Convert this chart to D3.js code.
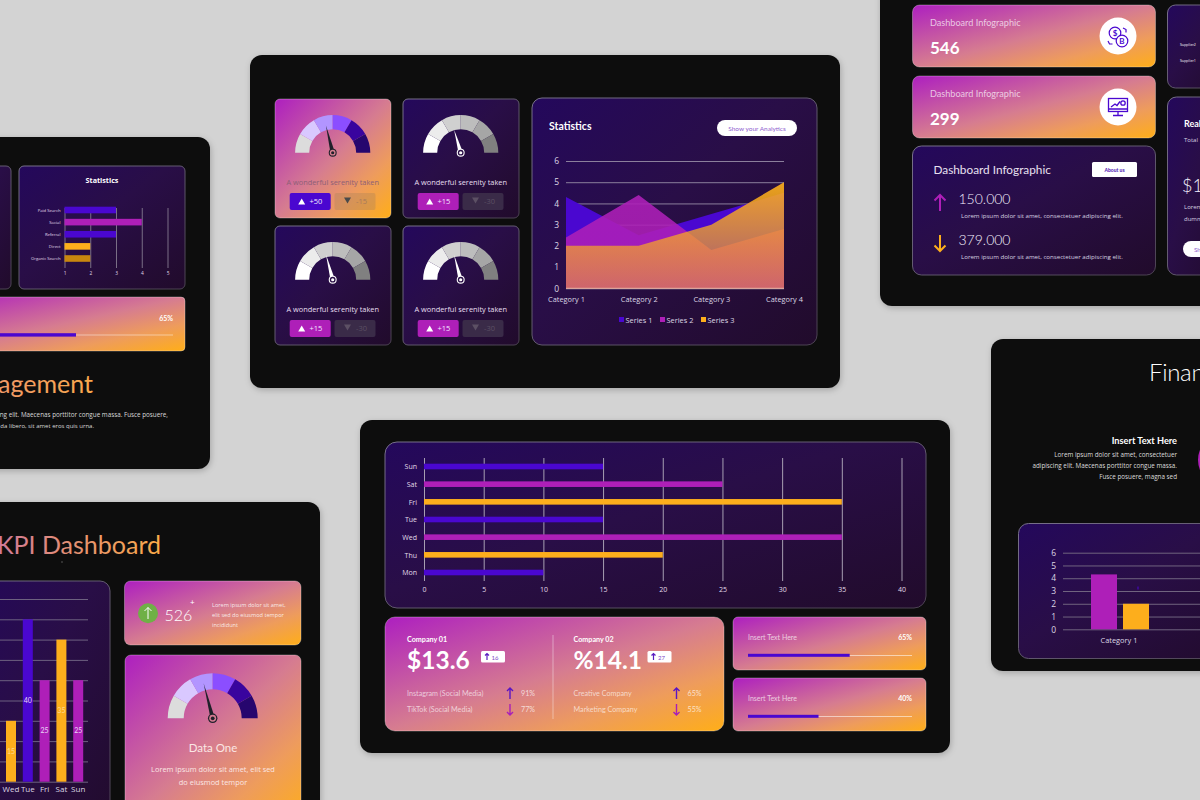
<!DOCTYPE html>
<html><head><meta charset="utf-8">
<style>html,body{margin:0;padding:0;background:#d3d3d3;overflow:hidden}svg{display:block}</style>
<script src="https://cdn.jsdelivr.net/npm/d3@7/dist/d3.min.js"></script>
</head><body><svg id="c" width="1200" height="800" xmlns="http://www.w3.org/2000/svg"></svg>
<script>
// ---------- data ----------
const areaCategories = ["Category 1","Category 2","Category 3","Category 4"];
const areaSeries1 = [4.3,2.5,3.5,4.5];
const areaSeries2 = [2.4,4.4,1.8,2.8];
const areaSeries3 = [2,2,3,5];
const areaLegend = ["Series 1","Series 2","Series 3"];
const weekDays = ["Sun","Sat","Fri","Tue","Wed","Thu","Mon"];
const weekValues = [15,25,35,15,35,20,10];
const weekKinds = [0,1,2,0,1,2,0];
const statLabels = ["Paid Search","Social","Referral","Direct","Organic Search"];
const statValues = [3,4,3,2,2];
const statKinds = [0,1,0,2,3];
const kpiDays = ["Wed","Tue","Fri","Sat","Sun"];
const kpiValues = [15,40,25,35,25];
const kpiKinds = [2,0,1,2,1];
const finCategory = ["Category 1"];
const finValues = [4.3,2];
const gaugeSegments = [1,1,1,1,1,1];
const gaugeColours = ["#dcdcdc","#d9c8ff","#b295ff","#8b4eff","#39049e","#26066e"];
const greyColours = ["#ffffff","#ececec","#d0d0d0","#bdbdbd","#a6a6a6","#808080"];
const gaugeCards = [
 {x:275,y:99,bright:true,needle:-14,len:28,up:"+50",down:"-15"},
 {x:403,y:99,bright:false,needle:-16,len:24,up:"+15",down:"-30"},
 {x:275,y:226,bright:false,needle:-15,len:26,up:"+15",down:"-30"},
 {x:403,y:226,bright:false,needle:-15,len:26,up:"+15",down:"-30"}
];
const companyRows = [
 {x:407,name:"Company 01",big:"$13.6",tag:"16",r:[["Instagram (Social Media)","91%"],["TikTok (Social Media)","77%"]]},
 {x:573.5,name:"Company 02",big:"%14.1",tag:"27",r:[["Creative Company","65%"],["Marketing Company","55%"]]}
];
const progressRows = [{y:617,label:"Insert Text Here",value:65,fill:0.62},{y:678,label:"Insert Text Here",value:40,fill:0.43}];
const palette = ["#4a07d0","#ae1fb8","#fdae1c","#c8860f"];

// ---------- helpers ----------
const HEAD='Lato, sans-serif', BODY='"Open Sans", sans-serif';
const svg=d3.select("#c");
const defs=svg.append("defs");
function grad(id,stops,attrs){
  const g=defs.append("linearGradient").attr("id",id);
  Object.entries(attrs||{x1:0,y1:0,x2:1,y2:1}).forEach(([k,v])=>g.attr(k,v));
  stops.forEach(s=>g.append("stop").attr("offset",s[0]).attr("stop-color",s[1]).attr("stop-opacity",s[2]===undefined?1:s[2]));
}
grad("warm",[[0,"#ad1fc0"],[0.5,"#d67c90"],[0.75,"#ee9c5c"],[1,"#ffae18"]]);
grad("dark",[[0,"#24085c"],[0.45,"#290e47"],[1,"#210b2b"]]);
grad("edge",[[0,"#77708a"],[1,"#4b4152"]]);
grad("a3",[[0,"#fdae1c",1],[1,"#fdae1c",0.5]],{gradientUnits:"userSpaceOnUse",x1:0,y1:161,x2:0,y2:288});
grad("a2",[[0,"#ae1fb8",0.9],[1,"#ae1fb8",0.85]],{gradientUnits:"userSpaceOnUse",x1:0,y1:161,x2:0,y2:288});
grad("t1",[[0,"#d07a98"],[1,"#fbac48"]],{gradientUnits:"userSpaceOnUse",x1:0,y1:0,x2:161,y2:0});
grad("t2",[[0,"#f19a68"],[1,"#f9a94c"]],{gradientUnits:"userSpaceOnUse",x1:0,y1:0,x2:95,y2:0});
const shadow=defs.append("filter").attr("id","sh").attr("x","-10%").attr("y","-10%").attr("width","120%").attr("height","120%");
shadow.append("feDropShadow").attr("dx",1).attr("dy",2).attr("stdDeviation",3).attr("flood-color","#000").attr("flood-opacity",0.22);

function box(x,y,w,h,r,fill,stroke,p){
  const e=(p||svg).append("rect").attr("x",x).attr("y",y).attr("width",w).attr("height",h).attr("rx",r).attr("fill",fill);
  if(stroke)e.attr("stroke",stroke).attr("stroke-width",1);
  return e;
}
function txt(x,y,s,size,fill,o){
  o=o||{};
  const e=(o.p||svg).append("text").attr("x",x).attr("y",y).text(s).attr("font-size",size).attr("fill",fill)
   .attr("font-family",o.f||BODY).attr("text-anchor",o.a||"start");
  if(o.w)e.attr("font-weight",o.w);
  if(o.o)e.attr("fill-opacity",o.o);
  return e;
}
const panel=(x,y,w,h)=>box(x,y,w,h,12,"#0c0c0c").attr("filter","url(#sh)");
const warmCard=(x,y,w,h,r)=>box(x,y,w,h,r,"url(#warm)","rgba(255,255,255,.3)");
const darkCard=(x,y,w,h,r)=>box(x,y,w,h,r,"url(#dark)","url(#edge)");
function styleAxis(g,size,col,line,hideText){
  g.select(".domain").remove();
  g.selectAll("line").attr("stroke",line);
  g.selectAll("text").attr("font-size",size).attr("fill",col).attr("font-family",BODY);
  if(hideText)g.selectAll("text").remove();
}
function arrow(x,y1,y2,col,sw,head){
  const dir=y2>y1?-1:1;
  svg.append("path").attr("d",`M${x},${y1}L${x},${y2}M${x-head},${y2+dir*head}L${x},${y2}L${x+head},${y2+dir*head}`)
   .attr("fill","none").attr("stroke",col).attr("stroke-width",sw);
}
function gauge(cx,cy,ro,ri,colours,needleDeg,needleLen,needleCol,ringInner){
  const pie=d3.pie().sort(null).startAngle(-Math.PI/2).endAngle(Math.PI/2)(gaugeSegments);
  const arc=d3.arc().innerRadius(ri).outerRadius(ro);
  const g=svg.append("g").attr("transform",`translate(${cx},${cy})`);
  g.selectAll("path.seg").data(pie).join("path").attr("class","seg").attr("d",arc).attr("fill",(d,i)=>colours[i]);
  const a=needleDeg*Math.PI/180, tx=Math.sin(a)*needleLen, ty=-Math.cos(a)*needleLen, nx=Math.cos(a)*2.2, ny=Math.sin(a)*2.2;
  g.append("path").attr("d",`M${tx},${ty}L${nx},${ny}L${-nx},${-ny}Z`).attr("fill",needleCol);
  g.append("circle").attr("r",ro/9.5).attr("fill",needleCol);
  g.append("circle").attr("r",ro/13).attr("fill",ringInner);
  g.append("circle").attr("r",ro/24).attr("fill",needleCol);
}
function tri(x,y,up,col){
  const s=up?1:-1;
  svg.append("path").attr("d",`M${x-3.5},${y+s*3}L${x},${y-s*3}L${x+3.5},${y+s*3}Z`).attr("fill",col);
}

svg.append("rect").attr("width",1200).attr("height",800).attr("fill","#d3d3d3");

// ---------- centre top panel ----------
panel(250,55,590,333);
gaugeCards.forEach(c=>{
  if(c.bright)warmCard(c.x,c.y,116,119,5);else darkCard(c.x,c.y,116,119,5);
  gauge(c.x+57.7,c.y+53.7,37.6,23.5,c.bright?gaugeColours:greyColours,c.needle,c.len,c.bright?"#20202a":"#ffffff",c.bright?"#d77f90":"#2a0f47");
  txt(c.x+57.7,c.y+86,"A wonderful serenity taken",7.4,c.bright?"#8d5f76":"#e6dff0",{a:"middle"});
  box(c.x+14.7,c.y+94,41,17,2,c.bright?palette[0]:palette[1]);
  tri(c.x+26.7,c.y+102.5,true,"#fff");
  txt(c.x+34.5,c.y+105,c.up,7.5,"#f2e8ff");
  box(c.x+59.5,c.y+94,41,17,2,c.bright?"rgba(170,130,90,.35)":"#3a2b48");
  tri(c.x+72.5,c.y+101.5,false,c.bright?"#4a4a4a":"#5c5064");
  txt(c.x+81,c.y+105,c.down,7.5,c.bright?"#a67a5c":"#5c5064");
});
darkCard(532,98,285,247,10);
txt(549,130,"Statistics",10.5,"#fff",{f:HEAD,w:700});
box(717,120,80,16,8,"#fff");
txt(757,131,"Show your Analytics",6.5,"#8f5fcf",{a:"middle",f:HEAD});
const ax=d3.scalePoint().domain(areaCategories).range([566,784]);
const ay=d3.scaleLinear().domain([0,6]).range([288.3,161]);
const ayG=svg.append("g").attr("transform","translate(566,0)").call(d3.axisLeft(ay).ticks(6).tickSize(-218).tickPadding(7));
styleAxis(ayG,8.5,"#dcd6e4","#8b7f9c");
const area=d3.area().x((d,i)=>ax(areaCategories[i])).y0(ay(0)).y1(d=>ay(d));
[[areaSeries1,palette[0]],[areaSeries2,"url(#a2)"],[areaSeries3,"url(#a3)"]].forEach(s=>{
  svg.append("path").datum(s[0]).attr("d",area).attr("fill",s[1]);
});
svg.append("line").attr("x1",566).attr("x2",784).attr("y1",ay(0)).attr("y2",ay(0)).attr("stroke","#f0b9a0").attr("stroke-width",1);
const axG=svg.append("g").attr("transform","translate(0,288.3)").call(d3.axisBottom(ax).tickSize(0).tickPadding(8));
styleAxis(axG,7.4,"#dcd6e4","none");
const lx=d3.scalePoint().domain(areaLegend).range([619,701]);
svg.selectAll("rect.lg").data(areaLegend).join("rect").attr("class","lg").attr("x",d=>lx(d)).attr("y",317)
  .attr("width",5).attr("height",5).attr("fill",(d,i)=>palette[i]);
svg.selectAll("text.lg").data(areaLegend).join("text").attr("class","lg").attr("x",d=>lx(d)+6.5).attr("y",322.5)
  .text(d=>d).attr("font-size",7.4).attr("fill","#dcd6e4").attr("font-family",BODY);

// ---------- centre bottom panel ----------
panel(360,420,590,333);
darkCard(385,442,541,166,12);
const wx=d3.scaleLinear().domain([0,40]).range([424,901.5]);
const wy=d3.scalePoint().domain(weekDays).range([466.5,572.5]);
const wxG=svg.append("g").attr("transform","translate(0,581)").call(d3.axisBottom(wx).ticks(8).tickSize(-123).tickPadding(6));
styleAxis(wxG,7,"#e2dcea","#a79fb2");
const wyG=svg.append("g").attr("transform","translate(424,0)").call(d3.axisLeft(wy).tickSize(0).tickPadding(7));
styleAxis(wyG,7,"#e2dcea","none");
svg.selectAll("rect.wk").data(weekValues).join("rect").attr("class","wk").attr("x",wx(0)).attr("y",(d,i)=>wy(weekDays[i])-2.8)
  .attr("width",d=>wx(d)-wx(0)).attr("height",5.6).attr("fill",(d,i)=>palette[weekKinds[i]]);

warmCard(385,617,339,114,10);
svg.append("line").attr("x1",553).attr("x2",553).attr("y1",635).attr("y2",719).attr("stroke","rgba(255,255,255,.4)");
companyRows.forEach(c=>{
  txt(c.x,642,c.name,7.2,"#fff",{f:HEAD,w:700});
  txt(c.x,668.5,c.big,24.5,"#fff",{f:HEAD,w:700});
  const tx=c.x+74;
  box(tx,651,24,11.5,1.5,"#fff");
  arrow(tx+6,660,653.5,"#5a1cc0",1.2,2);
  txt(tx+10.5,659.5,c.tag,6,"#7b4cc8",{f:HEAD});
  c.r.forEach((r,i)=>{
    const y=696+i*16;
    txt(c.x,y,r[0],7.2,"#fff",{f:HEAD,o:.65});
    const ax0=c.x+103;
    if(i==0)arrow(ax0,y+3,y-8,"#5a14c4",1.4,3);else arrow(ax0,y-8,y+3,"#a81fb8",1.4,3);
    txt(c.x+114,y,r[1],7.2,"#fff",{f:HEAD,o:.7});
  });
});
progressRows.forEach(p=>{
  warmCard(733,p.y,193,53,5);
  txt(748,p.y+23,p.label,7,"#fff",{f:HEAD,o:.7});
  txt(912,p.y+23,p.value+"%",7,"#fff",{f:HEAD,w:700,a:"end"});
  const px=d3.scaleLinear().domain([0,1]).range([748,912]);
  box(px(0),p.y+38,px(1)-px(0),1,0,"rgba(255,255,255,.55)");
  box(px(0),p.y+36.8,px(p.fill)-px(0),3,0,palette[0]);
});

// ---------- left middle panel ----------
panel(-60,137,270,332);
darkCard(-60,166,71,123,5);
darkCard(19,166,166,123,5);
txt(102,183,"Statistics",7.2,"#fff",{a:"middle",w:700,f:BODY});
const sx=d3.scaleLinear().domain([1,5]).range([64.5,167.5]);
const sy=d3.scalePoint().domain(statLabels).range([210,258.5]);
const sxG=svg.append("g").attr("transform","translate(0,268)").call(d3.axisBottom(sx).ticks(5).tickFormat(d3.format("d")).tickSize(-60).tickPadding(4));
styleAxis(sxG,4.8,"#e2dcea","#7a6f86");
const syG=svg.append("g").attr("transform","translate(64.5,0)").call(d3.axisLeft(sy).tickSize(0).tickPadding(4));
styleAxis(syG,4.2,"#e2dcea","none");
svg.selectAll("rect.st").data(statValues).join("rect").attr("class","st").attr("x",sx(1)).attr("y",(d,i)=>sy(statLabels[i])-3.3)
  .attr("width",d=>sx(d)-sx(1)).attr("height",6.6).attr("fill",(d,i)=>palette[statKinds[i]]);
warmCard(-60,297,245,54,4);
txt(173,321,"65%",7,"#fff",{f:HEAD,w:700,a:"end"});
box(-60,334.5,233,1,0,"rgba(255,255,255,.45)");
box(-60,333.2,136,3.4,0,palette[0]);
txt(93,393,"agement",25,"url(#t2)",{f:HEAD,a:"end"});
txt(168,417,"ng elit. Maecenas porttitor congue massa. Fusce posuere,",6.3,"#d8d8d8",{a:"end"});
txt(94,428,"da libero, sit amet eros quis urna.",6,"#d8d8d8",{a:"end"});

// ---------- bottom left panel ----------
panel(-60,502,380,340);
txt(161,553.5,"KPI Dashboard",25,"url(#t1)",{f:HEAD,a:"end"});
box(61.5,561,1,2,0,"#555");
darkCard(-40,581,150,260,10);
const ky=d3.scaleLinear().domain([0,45]).range([781.7,599]);
const kx=d3.scaleBand().domain(kpiDays).range([2.6,86.6]).paddingInner(0.4).paddingOuter(0.2);
const kyG=svg.append("g").attr("transform","translate(88,0)").call(d3.axisLeft(ky).ticks(9).tickSize(100).tickPadding(0));
styleAxis(kyG,6,"#fff","#6d6180",true);
const bw=10;
svg.selectAll("rect.kp").data(kpiValues).join("rect").attr("class","kp").attr("x",(d,i)=>kx(kpiDays[i])+kx.bandwidth()/2-bw/2)
  .attr("y",d=>ky(d)).attr("width",bw).attr("height",d=>ky(0)-ky(d)).attr("fill",(d,i)=>palette[kpiKinds[i]]);
svg.selectAll("text.kp").data(kpiValues).join("text").attr("class","kp").attr("x",(d,i)=>kx(kpiDays[i])+kx.bandwidth()/2)
  .attr("y",d=>(ky(d)+ky(0))/2+2.5).attr("text-anchor","middle").text(d=>d).attr("font-size",7).attr("font-family",HEAD)
  .attr("fill",(d,i)=>kpiKinds[i]==2?"#ffd98f":"#e9d5f5");
const kxG=svg.append("g").attr("transform","translate(0,781.7)").call(d3.axisBottom(kx).tickSize(0).tickPadding(5));
styleAxis(kxG,8,"#dcd6e4","none");
warmCard(124.5,581,176.5,64,6);
svg.append("circle").attr("cx",148).attr("cy",613.3).attr("r",10).attr("fill","#6fb046");
arrow(148,619,607.5,"#fff",1,3.5);
txt(164.5,621,"526",16,"#fff",{f:HEAD,w:300});
txt(190,605,"+",8,"#fff",{f:HEAD});
["Lorem ipsum dolor sit amet,","elit sed do eiusmod tempor","incididunt"].forEach((s,i)=>txt(212,606.5+i*10,s,5.6,"#fff",{o:.85}));
warmCard(125,655,176,170,6);
gauge(212.7,718.3,45,29,gaugeColours,-14.5,36,"#20202a","#d47b92");
txt(213,751.5,"Data One",11.5,"#fbe7e4",{a:"middle",f:HEAD});
txt(213,772,"Lorem ipsum dolor sit amet, elit sed",7.4,"#fbe7e4",{a:"middle"});
txt(213,785,"do eiusmod tempor",7.4,"#fbe7e4",{a:"middle"});

// ---------- top right panel ----------
panel(880,-40,360,346);
[[5,"546",54],[76,"299",125]].forEach(c=>{
  warmCard(912.5,c[0],243,62,7);
  txt(930,c[0]+21,"Dashboard Infographic",9.1,"#fff",{f:HEAD,o:.7});
  txt(930,c[2],c[1],17,"#fff",{f:HEAD,w:700});
  svg.append("circle").attr("cx",1118).attr("cy",c[0]+31).attr("r",18.5).attr("fill","#fff");
});
// coin icon
[[1115,33,"$"],[1122,41,"B"]].forEach(c=>{
  svg.append("circle").attr("cx",c[0]).attr("cy",c[1]).attr("r",5.8).attr("fill","#fff").attr("stroke",palette[0]).attr("stroke-width",1.2);
  txt(c[0],c[1]+2.8,c[2],8,palette[0],{a:"middle",f:HEAD,w:700});
});
svg.append("path").attr("d","M1123,28l3,1.5l0,3M1108,41l1.5,3l3,0").attr("fill","none").attr("stroke",palette[0]).attr("stroke-width",1.2);
// monitor icon
svg.append("g").attr("fill","none").attr("stroke",palette[0]).attr("stroke-width",1.3).call(g=>{
  g.append("rect").attr("x",1108.5).attr("y",98.5).attr("width",19).attr("height",13);
  g.append("path").attr("d","M1109,109h18M1111,107l4,-3l2,1.5l3,-4M1118,111.5v4M1113,115.5h10");
  g.append("circle").attr("cx",1123).attr("cy",103).attr("r",2.2);
});
darkCard(912.5,146,243,129,9);
txt(933.5,174,"Dashboard Infographic",11.8,"#e8e0f0",{f:HEAD});
box(1092,162,45,15,1.5,"#fff");
txt(1114.5,172,"About us",5,"#5a2bb8",{a:"middle",f:HEAD,w:900});
arrow(940,211,195,"#ae1fb8",2,5.5);
txt(958.5,204,"150.000",14,"#f3eefc",{f:HEAD,w:300});
txt(961,218,"Lorem ipsum dolor sit amet, consectetuer adipiscing elit.",6.15,"#d8d2e0");
arrow(940,235,251,"#fdae1c",2,5.5);
txt(958.5,245,"379.000",14,"#f3eefc",{f:HEAD,w:300});
txt(961,259,"Lorem ipsum dolor sit amet, consectetuer adipiscing elit.",6.15,"#d8d2e0");
darkCard(1167.5,5,60,83,8);
txt(1180,45.5,"Supplier2",3.6,"#fff");
txt(1180,62,"Supplier1",3.6,"#fff");
darkCard(1167.5,97,60,178,9);
txt(1184,127,"Real",9,"#fff",{f:HEAD,w:700});
txt(1184,142,"Total",6,"#d8d2e0");
txt(1182,192,"$1",18,"#f3eefc",{f:HEAD,w:300});
txt(1184,209,"Lorem",6,"#d8d2e0");
txt(1184,221,"dummy",6,"#d8d2e0");
box(1183,241,40,16,8,"#fff");
txt(1194,252,"Show",6.3,"#8f5fcf",{f:HEAD});

// ---------- right middle panel ----------
panel(991,339,260,332);
txt(1149,381,"Financial",24,"#fff",{f:HEAD,w:300}).attr("letter-spacing",-0.3);
txt(1177,444,"Insert Text Here",9.2,"#fff",{f:HEAD,w:700,a:"end"});
["Lorem ipsum dolor sit amet, consectetuer","adipiscing elit. Maecenas porttitor congue massa.","Fusce posuere, magna sed"].forEach((s,i)=>
  txt(1177,457+i*11,s,6.3,"#dcdcdc",{a:"end"}));
svg.append("circle").attr("cx",1225).attr("cy",460).attr("r",27).attr("fill",palette[1]);
darkCard(1018.5,523.5,230,135,10);
const fy=d3.scaleLinear().domain([0,6]).range([629.3,552.7]);
const fyG=svg.append("g").attr("transform","translate(1063,0)").call(d3.axisLeft(fy).ticks(6).tickSize(-170).tickPadding(7));
styleAxis(fyG,8.5,"#dcd6e4","#70647f");
const fx=d3.scaleBand().domain(finCategory).range([1075,1163]);
svg.selectAll("rect.fn").data(finValues).join("rect").attr("class","fn")
  .attr("x",(d,i)=>fx("Category 1")+[16,48][i]).attr("y",d=>fy(d)).attr("width",26).attr("height",d=>fy(0)-fy(d))
  .attr("fill",(d,i)=>palette[i+1]);
box(1137.5,586.5,1,3,0,palette[0]);
const fxG=svg.append("g").attr("transform","translate(0,629.3)").call(d3.axisBottom(fx).tickSize(0).tickPadding(8));
styleAxis(fxG,7.4,"#dcd6e4","none");
</script></body></html>
